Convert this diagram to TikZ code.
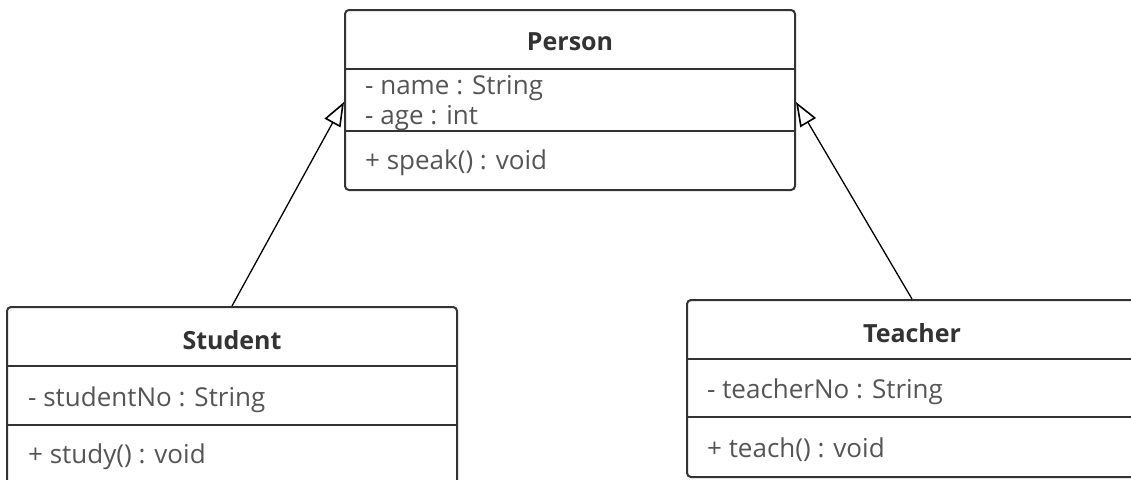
\documentclass[tikz,border=0pt]{standalone}
\usepackage{fontspec}
\setmainfont{Open Sans}
\usetikzlibrary{arrows.meta}
\definecolor{boxline}{HTML}{333333}
\definecolor{txt}{HTML}{555555}
\definecolor{ttl}{HTML}{333333}
\tikzset{
  umlbox/.style={draw=boxline, line width=2pt, rounded corners=4pt, fill=white, inner sep=0pt, minimum width=450pt},
  sep/.style={draw=boxline, line width=2pt},
  member/.style={anchor=west, inner sep=0pt, text=txt, font=\fontsize{26}{30}\selectfont},
  title/.style={inner sep=0pt, text=ttl, font=\fontsize{25}{30}\selectfont\bfseries},
  inherit/.style={draw=black, line width=1.3pt, -{Triangle[open, length=24pt, width=18pt, fill=white, line width=1.6pt]}}
}
\begin{document}
\begin{tikzpicture}[x=1pt, y=-1pt]
\clip (0,0) rectangle (1131,479);
\fill[white] (0,0) rectangle (1131,479);
% Person
\node[umlbox, minimum height=180pt] (person) at (570,100) {};
\draw[sep] (345,69) -- (795,69);
\draw[sep] (345,131) -- (795,131);
\node[title] (ptitle) at (570,42) {Person};
\node[member] (pname) at (365,88) {- name : String};
\node[member] (page) at (365,118) {- age : int};
\node[member] (pspeak) at (365,163) {+ speak() : void};
% Student
\node[umlbox, minimum height=200pt] (student) at (232,407) {};
\draw[sep] (7,366) -- (457,366);
\draw[sep] (7,425) -- (457,425);
\node[title] (stitle) at (232,340) {Student};
\node[member] (sno) at (28,400) {- studentNo : String};
\node[member] (sstudy) at (28,457) {+ study() : void};
% Teacher
\node[umlbox, minimum height=177pt] (teacher) at (912,388.5) {};
\draw[sep] (687,359) -- (1137,359);
\draw[sep] (687,417) -- (1137,417);
\node[title] (ttitle) at (912,333) {Teacher};
\node[member] (tno) at (707,392) {- teacherNo : String};
\node[member] (tteach) at (707,450) {+ teach() : void};
% inheritance
\coordinate (pl) at (344,102);
\coordinate (pr) at (796,102);
\draw[inherit] (student.north) -- (pl);
\draw[inherit] (teacher.north) -- (pr);
\end{tikzpicture}
\end{document}
